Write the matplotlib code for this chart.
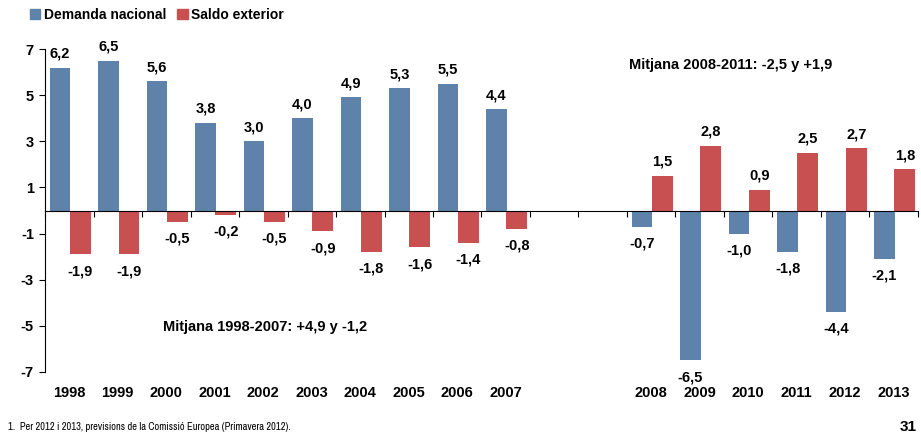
"""Demanda nacional i saldo exterior, 1998-2013"""
import matplotlib
matplotlib.use("Agg")
import matplotlib.pyplot as plt
from matplotlib.patches import Patch
import matplotlib.font_manager as fm
import numpy as np

plt.rcParams["font.family"] = ["Liberation Sans", "DejaVu Sans"]

# 10 anys + 2 buits + 6 anys
years = ["1998", "1999", "2000", "2001", "2002", "2003", "2004", "2005", "2006", "2007",
         "", "",
         "2008", "2009", "2010", "2011", "2012", "2013"]
demanda = [6.2, 6.5, 5.6, 3.8, 3.0, 4.0, 4.9, 5.3, 5.5, 4.4,
           None, None,
           -0.7, -6.5, -1.0, -1.8, -4.4, -2.1]
saldo = [-1.9, -1.9, -0.5, -0.2, -0.5, -0.9, -1.8, -1.6, -1.4, -0.8,
         None, None,
         1.5, 2.8, 0.9, 2.5, 2.7, 1.8]
yticks = [-7, -5, -3, -1, 1, 3, 5, 7]

BLUE = "#5F82AB"
RED = "#C85050"

fig = plt.figure(figsize=(9.21, 4.38), dpi=100)
ax = fig.add_axes([0.0489, 0.1507, 0.9478, 0.7373])

x = np.arange(len(years))
w = 0.43


def draw(vals, off, color):
    for xi, v in zip(x, vals):
        if v is None:
            continue
        ax.bar(xi + off, v, width=w, color=color, zorder=2)
        lab = f"{v:.1f}".replace(".", ",")
        dy = 5 if v >= 0 else -7
        ax.annotate(lab, (xi + off, v), xytext=(0, dy), textcoords="offset points",
                    ha="center", va="bottom" if v >= 0 else "top",
                    fontsize=10.5, fontweight="bold", annotation_clip=False)


draw(demanda, -0.19, BLUE)
draw(saldo, 0.23, RED)

ax.set_xlim(-0.5, len(years) - 0.5)
ax.set_ylim(-7, 7)
ax.set_yticks(yticks)
ax.set_yticklabels([str(t) for t in yticks], fontsize=10.5, fontweight="bold")
ax.tick_params(axis="y", direction="out", length=4, width=0.8, pad=4)

# eix x a zero amb marques entre categories
ax.spines["bottom"].set_position(("data", 0))
ax.spines["bottom"].set_linewidth(0.8)
ax.spines["left"].set_linewidth(0.8)
ax.spines["top"].set_visible(False)
ax.spines["right"].set_visible(False)
ax.set_xticks(np.arange(len(years) + 1) - 0.5)
ax.set_xticklabels([])
ax.tick_params(axis="x", direction="out", length=4, width=0.8)

for xi, yr in zip(x, years):
    if yr:
        ax.text(xi, -7.9, yr, ha="center", va="center", fontsize=10.5,
                fontweight="bold", clip_on=False)

ax.text(13.64, 6.3, "Mitjana 2008-2011: -2,5 y +1,9", ha="center", va="center",
        fontsize=10.5, fontweight="bold")
ax.text(4.04, -5.07, "Mitjana 1998-2007: +4,9 y -1,2", ha="center", va="center",
        fontsize=10.5, fontweight="bold")

handles = [Patch(color=BLUE), Patch(color=RED)]
fig.legend(handles, ["Demanda nacional", "Saldo exterior"], loc="upper left",
           bbox_to_anchor=(0.019, 1.01), ncol=2, frameon=False,
           handlelength=0.75, handleheight=0.75, handletextpad=0.25,
           columnspacing=0.8, prop={"weight": "bold", "size": 10})

narrow = [f.name for f in fm.fontManager.ttflist if "Narrow" in f.name or "Condensed" in f.name]
foot_family = [narrow[0], "Liberation Sans"] if narrow else ["Liberation Sans"]
fig.text(0.009, 0.025, "1.  Per 2012 i 2013, previsions de la Comissió Europea (Primavera 2012).",
         fontsize=7.5, ha="left", va="center", family=foot_family)
fig.text(0.995, 0.025, "31", fontsize=11, fontweight="bold", ha="right", va="center")

fig.savefig("out.png", dpi=100, facecolor="white")
